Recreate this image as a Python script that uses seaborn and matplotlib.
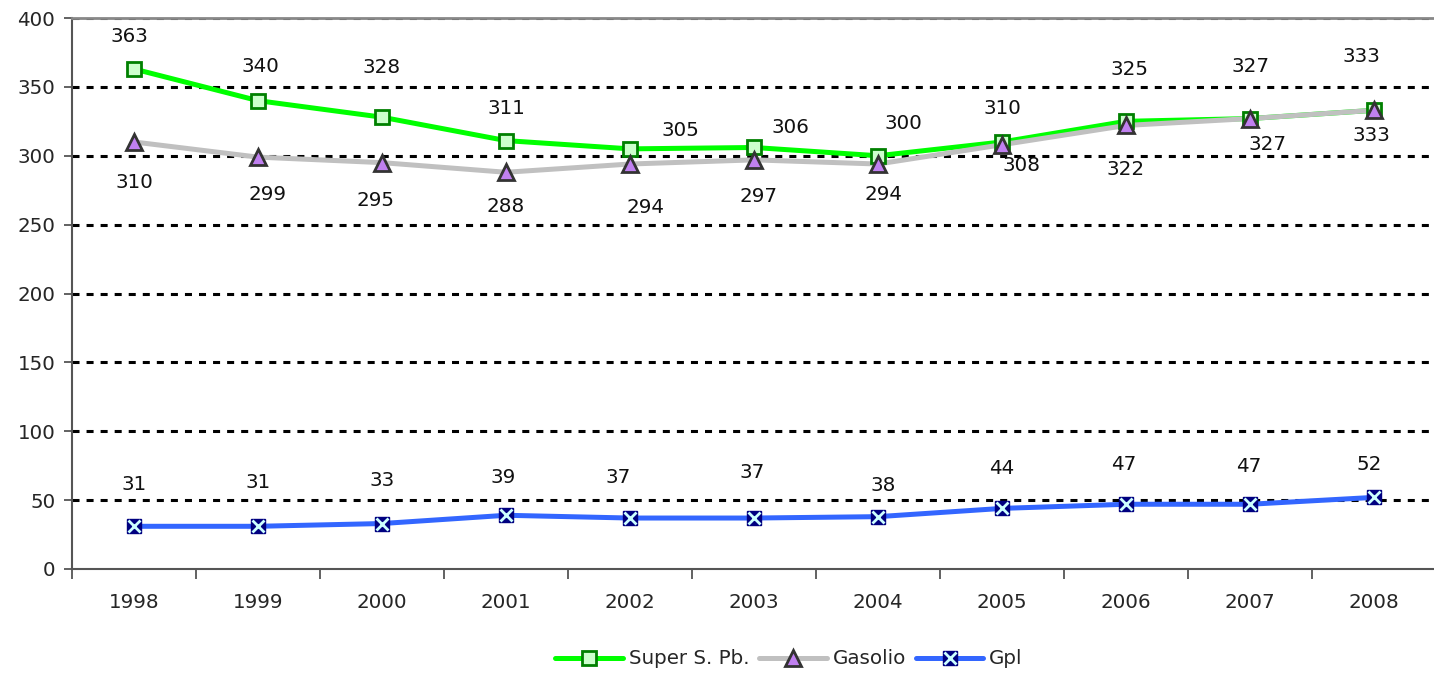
import matplotlib
matplotlib.use("Agg")
import matplotlib.pyplot as plt
import seaborn as sns
import pandas as pd
import numpy as np
from matplotlib.lines import Line2D

years = ["1998", "1999", "2000", "2001", "2002", "2003", "2004", "2005", "2006", "2007", "2008"]
super_pb = [363, 340, 328, 311, 305, 306, 300, 310, 325, 327, 333]
gasolio = [310, 299, 295, 288, 294, 297, 294, 308, 322, 327, 333]
gpl = [31, 31, 33, 39, 37, 37, 38, 44, 47, 47, 52]
series_names = ["Super S. Pb.", "Gasolio", "Gpl"]

# label offsets in pixels (dx, dy upward positive)
off_super = [(-5, 32), (2, 34), (0, 50), (0, 32), (50, 18), (36, 20), (25, 32), (0, 33), (4, 52), (1, 52), (-13, 54)]
off_gas = [(0, -41), (9, -37), (-7, -38), (0, -34), (15, -43), (5, -37), (5, -30), (19, -21), (0, -44), (18, -26), (-3, -25)]
off_gpl = [(0, 42), (0, 44), (0, 43), (-3, 38), (-12, 41), (-2, 46), (5, 31), (0, 40), (-2, 40), (-1, 38), (-5, 33)]

sns.set_theme(style="white")
plt.rcParams['font.family'] = ['DejaVu Sans']
FS = 14.3

x = np.arange(len(years))
df = pd.DataFrame({"x": np.tile(x, 3),
                   "value": super_pb + gasolio + gpl,
                   "serie": np.repeat(series_names, len(years))})

fig = plt.figure(figsize=(14.34, 6.73), dpi=100)
ax = fig.add_axes([72 / 1434, 1 - 569 / 673, 1364 / 1434, 551 / 673])

colors = {"Super S. Pb.": "#00FF00", "Gasolio": "#C0C0C0", "Gpl": "#3366FF"}

# grid
for yv in range(50, 401, 50):
    ax.axhline(yv, color="black", lw=2.2, ls=(0, (2.3, 2.3)), zorder=1)

for name in ["Gpl", "Super S. Pb.", "Gasolio"]:
    sub = df[df.serie == name]
    sns.lineplot(data=sub, x="x", y="value", ax=ax, color=colors[name], lw=3.6,
                 legend=False, zorder=3, sort=False)

ax.plot(x, super_pb, ls="none", marker="s", ms=10, mfc="#CCFFCC", mec="#008000", mew=2, zorder=4)
ax.plot(x, gasolio, ls="none", marker="^", ms=11, mfc="#C080F0", mec="#333333", mew=2, zorder=5)
ax.plot(x, gpl, ls="none", marker="s", ms=10, mfc="#000080", mec="#000080", mew=1, zorder=4)
ax.plot(x, gpl, ls="none", marker="x", ms=8, mec="#CCFFFF", mew=2, zorder=5)

def label(vals, offs):
    for xi, v, (dx, dy) in zip(x, vals, offs):
        ax.annotate(str(v), (xi, v), xytext=(dx * 0.72, dy * 0.72), textcoords="offset points",
                    ha="center", va="center", fontsize=FS, color="#111111", zorder=6)

label(super_pb, off_super)
label(gasolio, off_gas)
label(gpl, off_gpl)

ax.set_xlim(-0.5, len(years) - 0.5)
ax.set_ylim(0, 400)
ax.set_yticks(range(0, 401, 50))
ax.set_yticklabels([str(v) for v in range(0, 401, 50)], fontsize=FS)
ax.set_xticks(x)
ax.set_xticklabels(years, fontsize=FS)
ax.set_xticks(np.arange(-0.5, len(years), 1), minor=True)
ax.tick_params(axis="x", which="major", bottom=True, length=0, pad=17)
ax.tick_params(axis="x", which="minor", bottom=True, length=7, width=1.3, color="#555555", direction="out")
ax.tick_params(axis="y", length=6, width=1.3, color="#555555", direction="out", left=True, pad=6)
ax.set_xlabel("")
ax.set_ylabel("")
for s in ["left", "bottom"]:
    ax.spines[s].set_color("#555555")
    ax.spines[s].set_linewidth(1.5)
ax.spines["top"].set_color("#888888")
ax.spines["top"].set_linewidth(2)
ax.spines["right"].set_visible(False)

h_super = Line2D([], [], color="#00FF00", lw=3.6, marker="s", ms=10, mfc="#CCFFCC", mec="#008000", mew=2)
h_gas = Line2D([], [], color="#C0C0C0", lw=3.6, marker="^", ms=11, mfc="#C080F0", mec="#333333", mew=2)
h_gpl = Line2D([], [], color="#3366FF", lw=3.6, marker="s", ms=10, mfc="#000080", mec="#000080")
h_gplx = Line2D([], [], ls="none", marker="x", ms=8, mec="#CCFFFF", mew=2)
fig.legend([h_super, h_gas, (h_gpl, h_gplx)], series_names, loc="center",
           bbox_to_anchor=(789 / 1434, 1 - 659 / 673),
           ncol=3, frameon=False, fontsize=FS, handlelength=3.4, columnspacing=0.5, handletextpad=0.3)

fig.savefig("out.png", dpi=100)
